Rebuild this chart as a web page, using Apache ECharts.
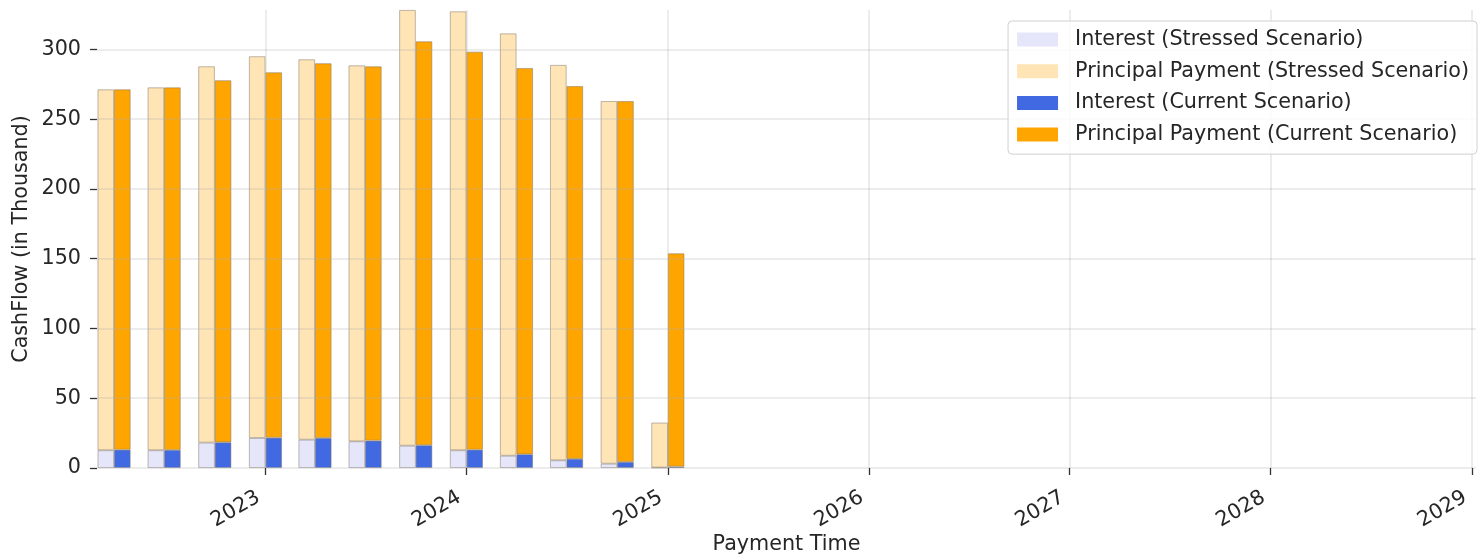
<!DOCTYPE html>
<html>
<head>
<meta charset="utf-8">
<script src="https://cdn.jsdelivr.net/npm/echarts@6/dist/echarts.min.js"></script>
<style>
html,body{margin:0;padding:0;background:#fff;}
#chart{width:1478px;height:554px;}
</style>
</head>
<body>
<div id="chart"></div>
<script>
const paymentDates = ['2022-04-01','2022-07-01','2022-10-01','2023-01-01','2023-04-01','2023-07-01','2023-10-01','2024-01-01','2024-04-01','2024-07-01','2024-10-01','2025-01-01'];
const stressedInterest  = [12.7, 12.7, 18.2, 21.5, 20.3, 19.1, 16.0, 12.7, 8.8, 5.5, 3.1, 0.3];
const stressedPrincipal = [258.6, 260.0, 269.6, 273.5, 272.5, 269.4, 312.2, 314.5, 302.6, 283.3, 259.8, 32.2];
const currentInterest   = [13.1, 12.9, 18.4, 21.7, 21.5, 19.6, 16.3, 13.1, 9.8, 6.5, 4.3, 1.0];
const currentPrincipal  = [258.2, 259.8, 259.4, 261.8, 268.5, 268.2, 289.4, 285.2, 276.8, 267.1, 258.6, 152.8];
const yearTicks = ['2023-01-01','2024-01-01','2025-01-01','2026-01-01','2027-01-01','2028-01-01','2029-01-01'];
const valueTicks = [0, 50, 100, 150, 200, 250, 300];
const seriesNames = ['Interest (Stressed Scenario)','Principal Payment (Stressed Scenario)','Interest (Current Scenario)','Principal Payment (Current Scenario)'];

const ts = s => Date.parse(s + 'T00:00:00Z');
const tickValues = yearTicks.map(ts);
const FONT = 'DejaVu Sans';
const FS = 20.7;
const TXT = '#262626';
const GRID = 'rgba(176,176,176,0.24)';

function mk(name, vals, stack, color) {
  return {
    name: name,
    type: 'bar',
    stack: stack,
    z: 1,
    barWidth: 16.5,
    barGap: '0%',
    // value first so that the stack is computed on the value (y) dimension
    encode: { x: 1, y: 0 },
    data: paymentDates.map((d, i) => [vals[i], ts(d)]),
    itemStyle: { color: color, borderColor: 'rgba(120,110,100,0.6)', borderWidth: 0.8 },
    emphasis: { disabled: true }
  };
}

const chart = echarts.init(document.getElementById('chart'), null, { renderer: 'canvas' });
chart.setOption({
  animation: false,
  textStyle: { fontFamily: FONT },
  grid: { left: 97, right: 2, top: 10, bottom: 86, containLabel: false, outerBoundsMode: 'none' },
  legend: {
    orient: 'vertical',
    right: 1,
    top: 21,
    z: 10,
    padding: [8, 8, 9, 9],
    itemWidth: 41,
    itemHeight: 14,
    itemGap: 10.7,
    icon: 'rect',
    backgroundColor: 'rgba(255,255,255,0.85)',
    borderColor: '#d0d0d0',
    borderWidth: 1,
    borderRadius: 4,
    itemStyle: { borderWidth: 0 },
    textStyle: { fontFamily: FONT, fontSize: FS, color: TXT, lineHeight: 20, padding: [0, 0, 0, 12] },
    data: seriesNames
  },
  xAxis: {
    type: 'value',
    z: 3,
    min: ts('2022-03-01'),
    max: ts('2029-01-08'),
    name: 'Payment Time',
    nameLocation: 'middle',
    nameGap: 66,
    nameMoveOverlap: false,
    nameTextStyle: { fontFamily: FONT, fontSize: FS, color: TXT },
    axisLine: { show: false },
    axisTick: { show: true, length: 7, lineStyle: { color: '#333', width: 1.3 }, customValues: tickValues },
    axisLabel: {
      customValues: tickValues,
      rotate: 30,
      margin: 24,
      padding: [0, 8, 0, 0],
      fontFamily: FONT,
      fontSize: FS,
      color: TXT,
      formatter: v => String(new Date(v).getUTCFullYear())
    },
    splitLine: { show: true, lineStyle: { color: GRID, width: 2 }, customValues: tickValues }
  },
  yAxis: {
    type: 'value',
    z: 3,
    min: 0,
    max: 'dataMax',
    name: 'CashFlow (in Thousand)',
    nameLocation: 'middle',
    nameGap: 65,
    nameMoveOverlap: false,
    nameTextStyle: { fontFamily: FONT, fontSize: FS, color: TXT },
    axisLine: { show: false },
    axisTick: { show: true, length: 7, lineStyle: { color: '#333', width: 1.3 }, customValues: valueTicks },
    axisLabel: { customValues: valueTicks, margin: 16, fontFamily: FONT, fontSize: FS, color: TXT },
    splitLine: { show: true, lineStyle: { color: GRID, width: 2 }, customValues: valueTicks }
  },
  series: [
    mk(seriesNames[0], stressedInterest, 'stressed', '#E6E6FA'),
    mk(seriesNames[1], stressedPrincipal, 'stressed', '#FFE4B5'),
    mk(seriesNames[2], currentInterest, 'current', '#4169E1'),
    mk(seriesNames[3], currentPrincipal, 'current', '#FFA500')
  ]
});
</script>
</body>
</html>
